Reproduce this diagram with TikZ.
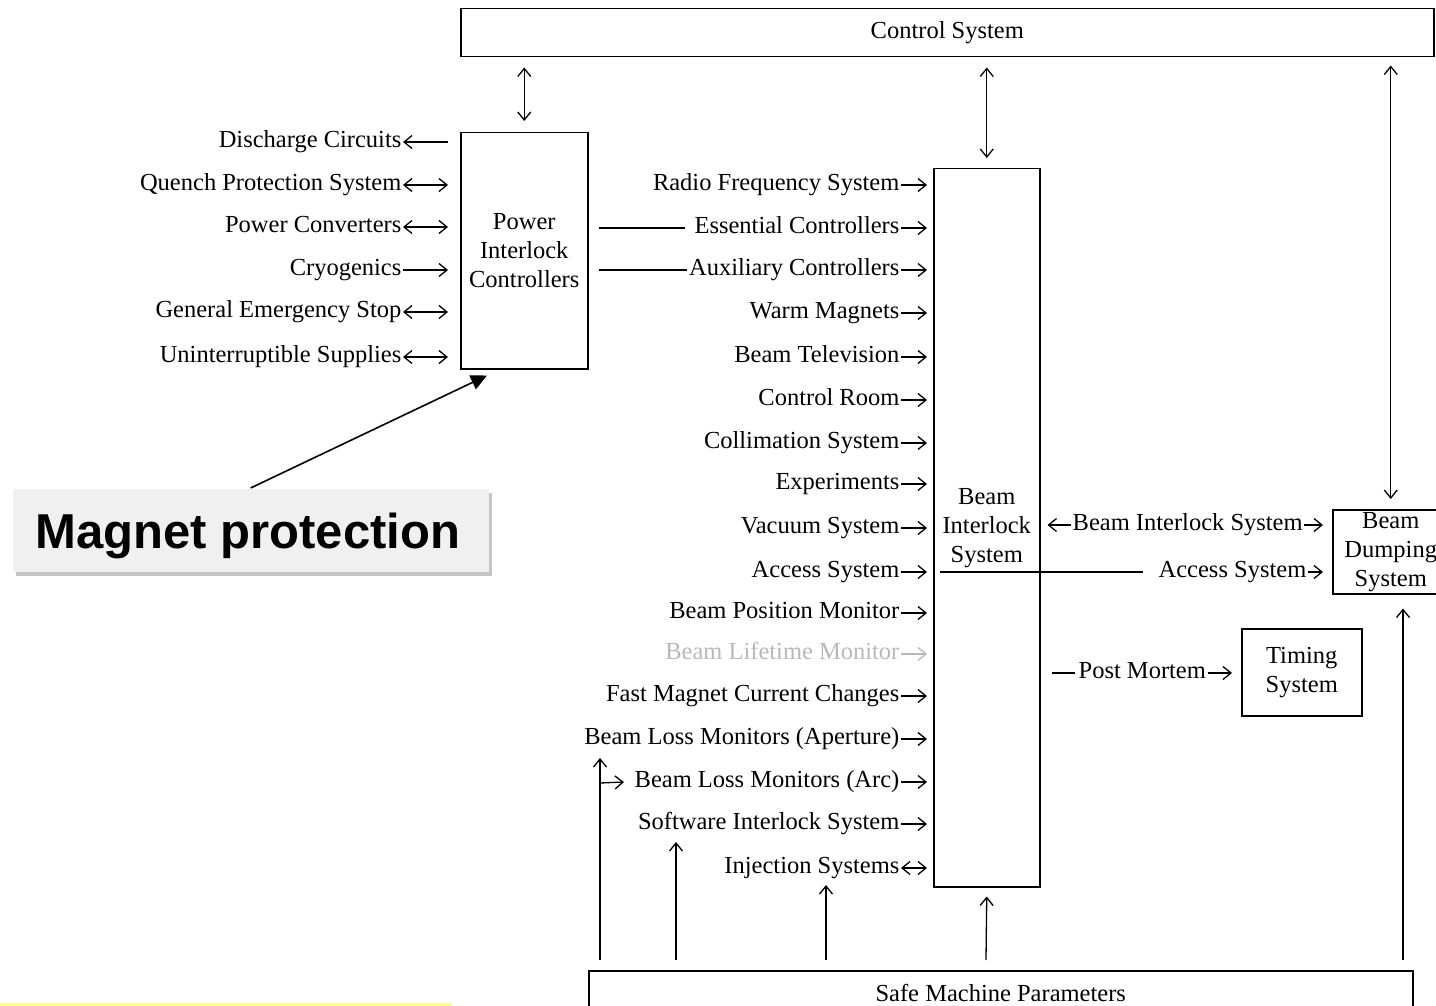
\documentclass[tikz,border=0pt]{standalone}
\usepackage{fontspec}
\setmainfont{Liberation Serif}
\newfontfamily\mpfont{Liberation Sans}
\usetikzlibrary{arrows.meta,shadows,calc}
\begin{document}
\fontsize{24.5}{29}\selectfont
\begin{tikzpicture}[x=1pt,y=-1pt, line width=1.3pt,
  box/.style={draw, line width=1.5pt, inner sep=0pt, align=center, font=\fontsize{24.5}{29}\selectfont},
  lbl/.style={inner sep=0pt, font=\fontsize{24.5}{29}\selectfont},
  arr/.style={-{Straight Barb[length=8pt,width=13pt]}},
  larr/.style={{Straight Barb[length=8pt,width=13pt]}-},
  darr/.style={{Straight Barb[length=8pt,width=13pt]}-{Straight Barb[length=8pt,width=13pt]}},
  faint/.style={black!28},
]
\useasboundingbox (0,0) rectangle (1436,1006);
\clip (0,0) rectangle (1436,1006);

% boxes
\node[box, minimum width=973, minimum height=48, anchor=north west] (cs) at (460,8) {Control System};
\node[box, minimum width=127, minimum height=236, anchor=north west] (pic) at (460,132) {Power\\Interlock\\Controllers};
\node[box, minimum width=106, minimum height=718, anchor=north west] (bis) at (933,168) {Beam\\Interlock\\System};
\node[box, minimum width=116, minimum height=84, anchor=north west] (bds) at (1332,509) {Beam\\Dumping\\System};
\node[box, minimum width=120, minimum height=87, anchor=north west] (ts) at (1241,628) {Timing\\System};
\node[box, minimum width=824, minimum height=44, anchor=north west] (smp) at (588,970) {Safe Machine Parameters};

% left labels of power interlock controllers
\node[lbl, anchor=mid east] (dc)  at (402,142) {Discharge Circuits};
\node[lbl, anchor=mid east] (qps) at (402,185) {Quench Protection System};
\node[lbl, anchor=mid east] (pc)  at (402,227) {Power Converters};
\node[lbl, anchor=mid east] (cry) at (402,270) {Cryogenics};
\node[lbl, anchor=mid east] (ges) at (402,312) {General Emergency Stop};
\node[lbl, anchor=mid east] (ups) at (402,357) {Uninterruptible Supplies};

\draw[larr] ([xshift=1]dc.mid east) -- ([xshift=-12]pic.west |- dc.mid east);
\draw[darr] ([xshift=1]qps.mid east) -- ([xshift=-12]pic.west |- qps.mid east);
\draw[darr] ([xshift=1]pc.mid east) -- ([xshift=-12]pic.west |- pc.mid east);
\draw[arr] ([xshift=1]cry.mid east) -- ([xshift=-12]pic.west |- cry.mid east);
\draw[darr] ([xshift=1]ges.mid east) -- ([xshift=-12]pic.west |- ges.mid east);
\draw[darr] ([xshift=1]ups.mid east) -- ([xshift=-12]pic.west |- ups.mid east);

% middle labels (inputs of beam interlock system)
\node[lbl, anchor=mid east] (rf)   at (900,185) {Radio Frequency System};
\node[lbl, anchor=mid east] (ec)   at (900,228) {Essential Controllers};
\node[lbl, anchor=mid east] (ac)   at (900,270) {Auxiliary Controllers};
\node[lbl, anchor=mid east] (wm)   at (900,313) {Warm Magnets};
\node[lbl, anchor=mid east] (btv)  at (900,357) {Beam Television};
\node[lbl, anchor=mid east] (cr)   at (900,400) {Control Room};
\node[lbl, anchor=mid east] (col)  at (900,443) {Collimation System};
\node[lbl, anchor=mid east] (exp)  at (900,484) {Experiments};
\node[lbl, anchor=mid east] (vac)  at (900,528) {Vacuum System};
\node[lbl, anchor=mid east] (acc)  at (900,572) {Access System};
\node[lbl, anchor=mid east] (bpm)  at (900,613) {Beam Position Monitor};
\node[lbl, anchor=mid east, faint] (blt) at (900,654) {Beam Lifetime Monitor};
\node[lbl, anchor=mid east] (fmcc) at (900,696) {Fast Magnet Current Changes};
\node[lbl, anchor=mid east] (blma) at (900,739) {Beam Loss Monitors (Aperture)};
\node[lbl, anchor=mid east] (blmc) at (900,782) {Beam Loss Monitors (Arc)};
\node[lbl, anchor=mid east] (sis)  at (900,824) {Software Interlock System};
\node[lbl, anchor=mid east] (inj)  at (900,868) {Injection Systems};

\foreach \n in {rf,ec,ac,wm,btv,cr,col,exp,vac,acc,bpm,fmcc,blma,blmc,sis}
  \draw[arr] ([xshift=1]\n.mid east) -- ([xshift=-6]bis.west |- \n.mid east);
\draw[arr, faint] ([xshift=1]blt.mid east) -- ([xshift=-6]bis.west |- blt.mid east);
\draw[darr] ([xshift=1]inj.mid east) -- ([xshift=-6]bis.west |- inj.mid east);

\draw ([xshift=10]pic.east |- ec.mid west) -- ([xshift=-9]ec.mid west);
\draw ([xshift=10]pic.east |- ac.mid west) -- ([xshift=-1]ac.mid west);

% right of beam interlock system
\node[lbl, anchor=mid west] (bil) at (1072,525) {Beam Interlock System};
\node[lbl, anchor=mid west] (acr) at (1158,572) {Access System};
\node[lbl, anchor=mid west] (pm)  at (1078,673) {Post Mortem};

\draw[arr] ([xshift=-1]bil.mid west) -- ([xshift=7]bis.east |- bil.mid west);
\draw[arr] ([xshift=1]bil.mid east) -- ([xshift=-9]bds.west |- bil.mid east);
\draw ([xshift=7]bis.west |- acr.mid west) -- ([xshift=-15]acr.mid west);
\draw[arr] ([xshift=1]acr.mid east) -- ([xshift=-9]bds.west |- acr.mid east);
\draw ([xshift=11]bis.east |- pm.mid west) -- ([xshift=-3]pm.mid west);
\draw[arr] ([xshift=1]pm.mid east) -- ([xshift=-9]ts.west |- pm.mid east);

% links with control system
\draw[darr] ($(cs.south -| pic.north)+(0,10)$) -- ($(pic.north)+(0,-11)$);
\draw[darr] ($(cs.south -| bis.north)+(0,10)$) -- ($(bis.north)+(0,-10)$);
\draw[darr] ($(cs.south -| bds.north)+(0,8)$) -- ($(bds.north)+(0,-10)$);

% links from safe machine parameters
\coordinate (s1) at (600,960);
\coordinate (s2) at (676,960);
\coordinate (s3) at (826,960);
\coordinate (s4) at (986,960);
\coordinate (s5) at (1403,960);
\draw[arr] (s1) -- (600,758);
\draw[arr] (600,783) -- ([xshift=-10]blmc.mid west);
\draw[arr] (s2) -- (676,842);
\draw[arr] (s3) -- (826,885);
\draw[arr] (s4) -- ($(bis.south)+(0,9)$);
\draw[arr] (s5) -- ($(bds.south -| s5)+(0,14)$);

% magnet protection callout
\node[fill=black!6, drop shadow={shadow xshift=3pt, shadow yshift=-4pt, fill=black!45, opacity=0.5},
      minimum width=476, minimum height=83, anchor=north west, inner sep=0pt] (mp) at (12,488) {};
\node[anchor=base west, inner sep=0pt, font=\mpfont\bfseries\fontsize{49}{55}\selectfont] (mpt) at (35,548) {Magnet protection};
\draw[line width=1.6pt, -{Triangle[length=16pt,width=15pt]}] (mp.north) -- ($(pic.south west)+(27,6)$);

% highlight line at the bottom
\draw[yellow!40, line width=3pt] (0,1004) -- (452,1004);
\end{tikzpicture}
\end{document}
